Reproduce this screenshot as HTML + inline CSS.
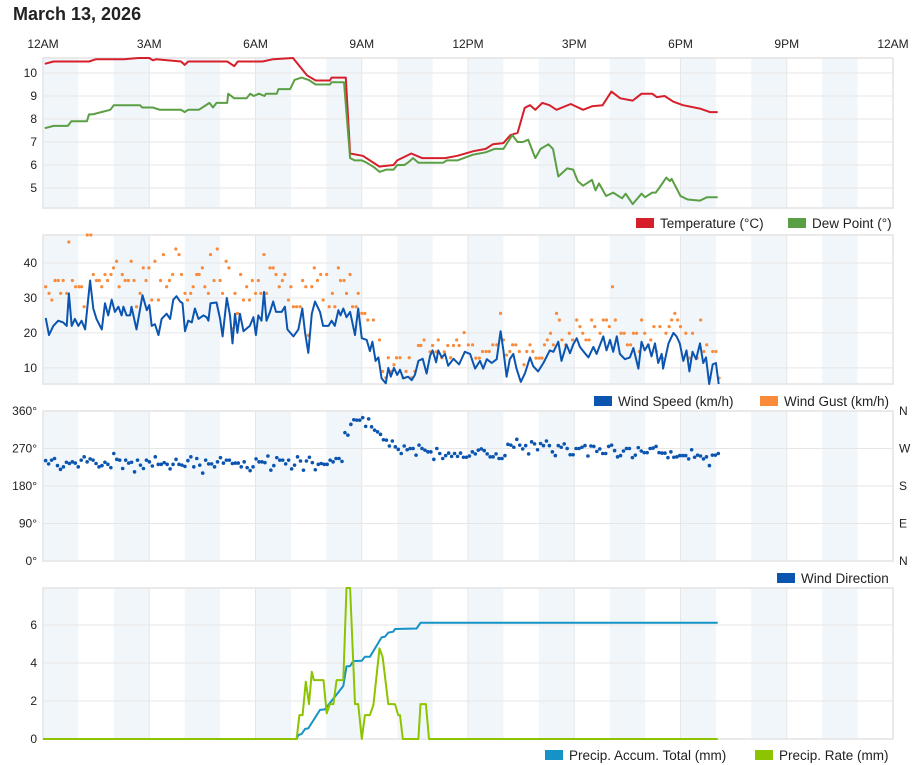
<!DOCTYPE html>
<html><head><meta charset="utf-8"><style>
body{margin:0;background:#fff;font-family:"Liberation Sans",sans-serif;}
#wrap{position:relative;width:913px;height:765px;overflow:hidden;}
#title{position:absolute;left:13px;top:4px;font-size:18px;font-weight:bold;color:#222;}
svg{position:absolute;left:0;top:0;}
</style></head><body>
<div id="wrap">
<div id="title">March 13, 2026</div>
<svg id="svg" width="913" height="765"></svg>
</div>
<script>
const timeLabels=["12AM","3AM","6AM","9AM","12PM","3PM","6PM","9PM","12AM"];
const tempT=[0.05,0.3,1.3,1.5,2.3,2.7,3.0,3.1,3.2,3.9,4.0,4.1,5.2,5.4,5.5,6.2,6.5,7.06,7.45,7.7,8.1,8.15,8.55,8.67,9.03,9.5,9.9,10.0,10.4,10.7,11.35,11.7,12.15,12.5,12.7,13.0,13.2,13.4,13.6,13.75,13.9,14.1,14.3,14.5,14.9,15.25,15.5,15.8,16.05,16.3,16.65,16.9,17.2,17.33,17.55,17.8,18.07,18.55,18.83,19.05];
const tempV=[10.4,10.5,10.5,10.6,10.6,10.7,10.7,10.55,10.6,10.5,10.35,10.5,10.5,10.3,10.5,10.5,10.6,10.7,9.9,9.67,9.67,9.8,9.8,6.5,6.4,5.93,6.0,6.2,6.5,6.3,6.3,6.4,6.6,6.7,6.9,6.95,7.3,7.4,8.48,8.6,8.4,8.7,8.6,8.4,8.65,8.4,8.55,8.6,9.19,8.9,8.8,9.1,9.1,8.95,9.0,8.75,8.6,8.45,8.3,8.3];
const dewT=[0.05,0.3,0.7,0.8,1.24,1.3,1.4,1.9,2.0,2.74,2.8,3.1,3.3,3.9,4.0,4.1,4.4,4.5,4.7,4.8,4.9,5.2,5.23,5.4,5.75,5.85,5.95,6.1,6.25,6.3,6.6,6.65,6.98,7.1,7.3,7.5,7.7,8.1,8.15,8.5,8.67,8.8,9.0,9.14,9.35,9.5,9.7,9.9,10.0,10.2,10.3,10.45,10.6,11.3,11.4,11.7,12.15,12.5,12.75,13.0,13.25,13.4,13.55,13.7,13.9,14.05,14.27,14.4,14.55,14.8,14.97,15.1,15.25,15.5,15.6,15.7,15.9,16.1,16.35,16.45,16.65,16.9,17.0,17.2,17.3,17.4,17.6,17.7,17.75,18.0,18.2,18.55,18.75,19.05];
const dewV=[7.6,7.7,7.7,7.9,7.9,8.2,8.2,8.4,8.6,8.6,8.5,8.5,8.4,8.4,8.3,8.4,8.4,8.5,8.7,8.5,8.7,8.7,9.1,8.9,8.9,9.1,9.0,9.1,9.0,9.1,9.1,9.3,9.3,9.7,9.8,9.7,9.5,9.5,9.6,9.6,6.3,6.2,6.2,6.1,5.9,5.7,5.8,5.8,6.0,6.0,6.1,6.3,6.1,6.1,6.2,6.2,6.45,6.55,6.7,6.7,7.3,7.0,7.0,7.1,6.3,6.7,6.9,6.7,5.5,5.85,5.8,5.3,5.1,5.35,4.9,5.2,4.65,4.8,4.55,4.75,4.3,4.75,4.6,4.8,4.8,5.0,5.45,5.3,5.4,4.65,4.5,4.45,4.6,4.6];
const windT=[0.075,0.17,0.29,0.43,0.57,0.67,0.73,0.81,0.9,1.0,1.09,1.19,1.33,1.42,1.51,1.61,1.66,1.75,1.84,1.94,2.03,2.13,2.22,2.27,2.36,2.46,2.5,2.64,2.81,2.93,3.0,3.07,3.16,3.26,3.35,3.49,3.59,3.68,3.77,3.87,3.94,4.01,4.1,4.2,4.29,4.39,4.53,4.62,4.67,4.73,4.9,5.0,5.07,5.19,5.28,5.35,5.42,5.49,5.56,5.66,5.84,5.94,6.01,6.08,6.17,6.24,6.31,6.41,6.5,6.58,6.74,6.83,6.9,7.07,7.21,7.32,7.4,7.49,7.59,7.68,7.82,7.91,8.06,8.15,8.24,8.34,8.4,8.48,8.57,8.67,8.81,8.9,9.0,9.14,9.23,9.3,9.39,9.47,9.56,9.68,9.75,9.82,9.91,10.0,10.08,10.17,10.31,10.41,10.5,10.6,10.72,10.83,10.93,11.0,11.1,11.16,11.26,11.35,11.44,11.59,11.75,11.91,12.06,12.2,12.34,12.43,12.53,12.67,12.81,12.92,13.0,13.09,13.18,13.28,13.37,13.49,13.61,13.75,13.84,13.98,14.13,14.31,14.41,14.55,14.64,14.78,14.88,14.97,15.07,15.16,15.3,15.4,15.54,15.63,15.82,15.91,16.01,16.1,16.2,16.29,16.43,16.57,16.67,16.81,16.9,16.99,17.09,17.18,17.28,17.37,17.47,17.51,17.66,17.8,17.89,17.98,18.08,18.17,18.25,18.34,18.44,18.55,18.64,18.72,18.81,18.91,19.0,19.08];
const windV=[24.3,19.4,22,23.5,23,22,31.3,22,24,22,23.5,21,35,27,24,22,21,28.5,25,29.5,26,27.5,25,27.5,25,25,27.5,21,30.8,26.5,28,22,22.5,19.4,24,25.5,24,29.5,30.5,29,28.5,20.5,23.5,23,27,24,25,24.5,23.5,28.5,28.7,24,19,30,25,17,25.5,20,25.5,20.5,22,24.5,19.4,25,23.5,31.7,23.5,26,29,26,26,27.5,21,19,21,27,20,14.3,25.5,29,26,22,22,23.5,22,26.5,25,27,24.5,26,19.4,27,18.5,18,14.8,17.5,12,13,7,5.6,10,7.5,10,8,9.5,7,7.5,6.5,8,12,12.6,8.4,13.5,15,11.6,15,13,14,10.6,12.6,11,14.6,14,9.8,12,9.8,12.5,11.4,12.5,20.5,15,7.5,12.5,14,9.8,6,8.5,13,10.5,9,11.4,15,14.6,17.5,12,16.7,14.2,16.7,18.5,16,14.2,13,16,14,19,15,18,14.6,19,14,12.5,13,15.7,9.8,17.5,15,16.7,13.3,17,11.4,14,9.8,17,20,19,17,12,15,9,14.6,12.5,17,11.4,13,5.4,11,11.4,5.4];
const gustT=[0.075,0.17,0.25,0.34,0.43,0.5,0.57,0.67,0.73,0.83,0.92,1.02,1.09,1.16,1.25,1.35,1.42,1.51,1.59,1.66,1.75,1.82,1.92,1.99,2.08,2.15,2.24,2.32,2.41,2.49,2.57,2.64,2.74,2.83,2.91,2.99,3.07,3.16,3.26,3.32,3.4,3.49,3.57,3.66,3.75,3.84,3.91,4.01,4.08,4.17,4.24,4.34,4.41,4.5,4.57,4.67,4.73,4.83,4.92,5.0,5.07,5.17,5.25,5.33,5.42,5.49,5.58,5.66,5.75,5.83,5.91,6.0,6.08,6.15,6.24,6.31,6.41,6.5,6.58,6.67,6.76,6.83,6.93,7.0,7.07,7.16,7.26,7.33,7.42,7.49,7.59,7.66,7.75,7.84,7.91,8.01,8.08,8.17,8.24,8.34,8.4,8.5,8.57,8.67,8.74,8.84,8.9,9.0,9.09,9.17,9.33,9.5,9.59,9.68,9.75,9.84,9.91,9.98,10.08,10.17,10.25,10.34,10.41,10.5,10.6,10.67,10.76,10.83,10.93,11.0,11.1,11.16,11.26,11.33,11.43,11.51,11.59,11.68,11.75,11.89,12.01,12.13,12.22,12.32,12.41,12.51,12.6,12.7,12.81,12.92,13.0,13.09,13.18,13.26,13.35,13.45,13.58,13.66,13.75,13.83,13.92,14.01,14.09,14.16,14.24,14.33,14.41,14.5,14.58,14.65,14.76,14.86,14.95,15.07,15.16,15.24,15.33,15.42,15.49,15.58,15.73,15.82,15.91,15.99,16.08,16.16,16.32,16.41,16.5,16.59,16.67,16.76,16.84,16.9,16.99,17.09,17.16,17.25,17.32,17.42,17.49,17.59,17.68,17.75,17.84,17.92,18.0,18.15,18.25,18.34,18.47,18.57,18.66,18.74,18.83,18.91,19.0,19.09];
const gustV=[33.2,31.3,29.4,35,35,31.3,35,31.3,46,35,33.2,33.2,33.2,27.5,48,48,36.7,35,35,33.2,36.7,35,36.7,38.6,40.5,33.2,36.7,35,35,40.5,35,27.5,31.3,38.6,35,38.6,29.4,40.5,29.4,35,42.4,33.2,35,36.7,44,42.4,36.7,31.3,29.4,31.3,33.2,36.7,36.7,38.6,33.2,31.3,42.4,35,44,35,31.3,40.5,38.6,21.2,31.3,25.6,36.7,29.4,33.2,29.4,35,31.3,35,31.3,42.4,31.3,38.6,38.6,36.7,33.2,35,36.7,29.4,33.2,27.5,27.5,27.5,35,33.2,19.3,33.2,38.6,35,36.7,29.4,36.7,27.5,31.3,27.5,38.6,35,35,31.3,36.7,27.5,27.5,31.3,25.6,25.6,23.7,23.7,18,9,7.2,12.9,9,10.9,12.9,12.9,7.2,9,12.9,7.2,9,16.4,16.4,18,9,14.6,16.4,14.6,18,12.9,14.6,16.4,12.9,16.4,18,16.4,20.1,16.6,16.6,12.8,12.8,14.7,14.7,14.7,16.6,16.6,25.6,18,13.7,14.7,16.6,16.6,14.7,10.9,14.7,16.6,14.7,12.8,12.8,12.8,16.6,18,19.9,16.6,25.6,23.7,18,16.6,19.9,18,23.7,21.8,19.9,18,18,23.7,21.8,19.9,23.7,23.7,21.8,33.2,23.7,19.9,19.9,16.6,16.6,19.9,19.9,14.7,23.7,19.9,16.6,18,21.8,14.7,21.8,12.8,19.9,21.8,23.7,25.6,23.7,21.8,19.9,12.8,19.9,12.8,23.7,14.7,16.6,7.1,14.7,14.7,7.1];
const dirStartHour=0.075;
const dirStepMinutes=5.02;
const dirV=[241,233,242,246,229,220,226,237,234,238,235,226,242,250,238,245,242,234,226,229,237,232,224,258,244,242,222,242,235,237,214,242,230,222,242,238,228,250,232,232,236,232,221,232,244,232,230,227,241,250,226,246,230,211,242,233,233,226,238,248,235,242,242,234,235,235,226,238,224,217,226,245,238,238,236,252,218,229,248,242,242,233,242,221,230,250,240,218,240,249,236,219,232,234,232,232,242,238,246,246,239,308,302,328,339,338,338,344,323,341,322,314,310,304,
291,290,276,288,274,268,258,276,267,270,270,254,278,270,266,262,262,244,270,258,246,253,259,251,258,251,259,249,249,252,262,257,266,269,265,257,250,250,257,246,246,253,280,278,273,292,278,269,277,257,286,281,267,282,277,288,277,262,253,277,273,281,270,255,255,270,270,273,277,252,276,275,263,269,258,258,275,278,265,250,253,264,270,270,248,254,272,264,260,260,270,271,275,260,259,259,248,262,249,250,253,253,253,245,267,249,254,252,245,250,229,254,254,258];
const accT=[0,7.16,7.21,7.3,7.4,7.49,7.82,7.96,8.48,8.57,8.67,8.76,9.0,9.09,9.23,9.56,9.66,9.75,9.89,9.94,10.55,10.66,19.05];
const accV=[0,0,0.21,0.26,0.53,0.56,1.53,1.56,2.79,3.82,3.84,4.1,4.12,4.33,4.33,5.35,5.39,5.6,5.65,5.79,5.82,6.12,6.12];
const rateT=[0,7.16,7.24,7.33,7.42,7.51,7.59,7.65,7.92,8.01,8.1,8.2,8.29,8.48,8.57,8.67,8.81,8.9,9.0,9.09,9.23,9.33,9.5,9.59,9.75,9.94,10.03,10.08,10.16,10.6,10.66,10.81,10.9,19.05];
const rateV=[0,0,1.26,1.26,3.02,1.84,3.54,3.1,3.1,1.35,1.84,1.84,3.1,3.1,7.95,7.95,1.84,1.84,0,1.26,1.26,1.79,4.77,4.33,1.84,1.84,1.26,1.26,0,0,1.84,1.84,0,0];

const NS='http://www.w3.org/2000/svg';
const svg=document.getElementById('svg');
const X0=43,X1=893;
function x(h){return X0+(X1-X0)*h/24;}
function mk(tag,attrs,parent){const e=document.createElementNS(NS,tag);for(const k in attrs)e.setAttribute(k,attrs[k]);(parent||svg).appendChild(e);return e;}
const panels=[
 {top:58,bot:208,vmin:4.13,vmax:10.65,ticks:[5,6,7,8,9,10],fmt:v=>v},
 {top:235,bot:384,vmin:5.4,vmax:48,ticks:[10,20,30,40],fmt:v=>v},
 {top:411,bot:561,vmin:0,vmax:360,ticks:[0,90,180,270,360],fmt:v=>v+'°'},
 {top:588,bot:739,vmin:0,vmax:7.95,ticks:[0,2,4,6],fmt:v=>v}
];
function yf(p){return v=>p.bot-(v-p.vmin)/(p.vmax-p.vmin)*(p.bot-p.top);}
timeLabels.forEach((t,i)=>{const e=mk('text',{x:x(i*3),y:48,'text-anchor':'middle','font-size':12,fill:'#222'});e.textContent=t;

});
panels.forEach((p,pi)=>{
 const g=mk('g',{});
 
 
 for(let h=0;h<24;h+=2){const r=mk('rect',{x:x(h),y:p.top,width:x(h+1)-x(h),height:p.bot-p.top,fill:'#f1f6fb'},g);
  
  }
 const Y=yf(p);
 p.ticks.forEach(v=>{const yy=Y(v);
  const l=mk('line',{x1:X0,x2:X1,y1:yy,y2:yy,stroke:'#e6e6e6','stroke-width':1},g);
  
  
  const t=mk('text',{x:37,y:yy+4,'text-anchor':'end','font-size':12,fill:'#222'},g);t.textContent=p.fmt(v);
  
  });
 for(let h=3;h<24;h+=3){const l=mk('line',{x1:x(h),x2:x(h),y1:p.top,y2:p.bot,stroke:'#e6e6e6','stroke-width':1},g);
  
  }
 const fr=mk('rect',{x:X0,y:p.top,width:X1-X0,height:p.bot-p.top,fill:'none',stroke:'#e3e3e3','stroke-width':1.5},g);
 
 
});
function line(T,V,p,color,name){const Y=yf(p);let d='';T.forEach((t,i)=>{d+=(i?'L':'M')+x(t).toFixed(1)+','+Y(Math.min(V[i],p.vmax)).toFixed(1);});
 const e=mk('path',{d:d,fill:'none',stroke:color,'stroke-width':2,'stroke-linejoin':'round'});
 
 }
function dots(T,V,p,color,r,name){const Y=yf(p);T.forEach((t,i)=>{const c=mk('circle',{cx:x(t),cy:Y(V[i]),r:r,fill:color});
 
 });}
line(tempT,tempV,panels[0],'#d71f2b','temperature-line');
line(dewT,dewV,panels[0],'#5b9f45','dew-point-line');
dots(gustT,gustV,panels[1],'#f98b3a',1.6,'wind-gust-point');
line(windT,windV,panels[1],'#0b55b0','wind-speed-line');
const dirT=dirV.map((v,i)=>dirStartHour+i*dirStepMinutes/60);
dots(dirT,dirV,panels[2],'#0b55b0',1.8,'wind-direction-point');
line(accT,accV,panels[3],'#1592c6','precip-accum-line');
line(rateT,rateV,panels[3],'#8cc400','precip-rate-line');
const compass=['N','E','S','W','N'];
[0,90,180,270,360].forEach((d,i)=>{const t=mk('text',{x:899,y:yf(panels[2])(d)+4,'font-size':12,fill:'#222'});t.textContent=compass[i];
 
 });
function legend(bx,y,color,label,name){const g=mk('g',{});
 
 
 mk('rect',{x:bx,y:y-5,width:18,height:10,fill:color},g);
 const t=mk('text',{x:bx+24,y:y+5,'font-size':13.5,fill:'#222'},g);t.textContent=label;}
legend(636,223,'#d71f2b','Temperature (°C)','legend-temperature');
legend(788,223,'#5b9f45','Dew Point (°)','legend-dew-point');
legend(594,401,'#0b55b0','Wind Speed (km/h)','legend-wind-speed');
legend(760,401,'#f98b3a','Wind Gust (km/h)','legend-wind-gust');
legend(777,578,'#0b55b0','Wind Direction','legend-wind-direction');
legend(545,755,'#1592c6','Precip. Accum. Total (mm)','legend-precip-accum');
legend(755,755,'#8cc400','Precip. Rate (mm)','legend-precip-rate');
</script>
</body></html>
